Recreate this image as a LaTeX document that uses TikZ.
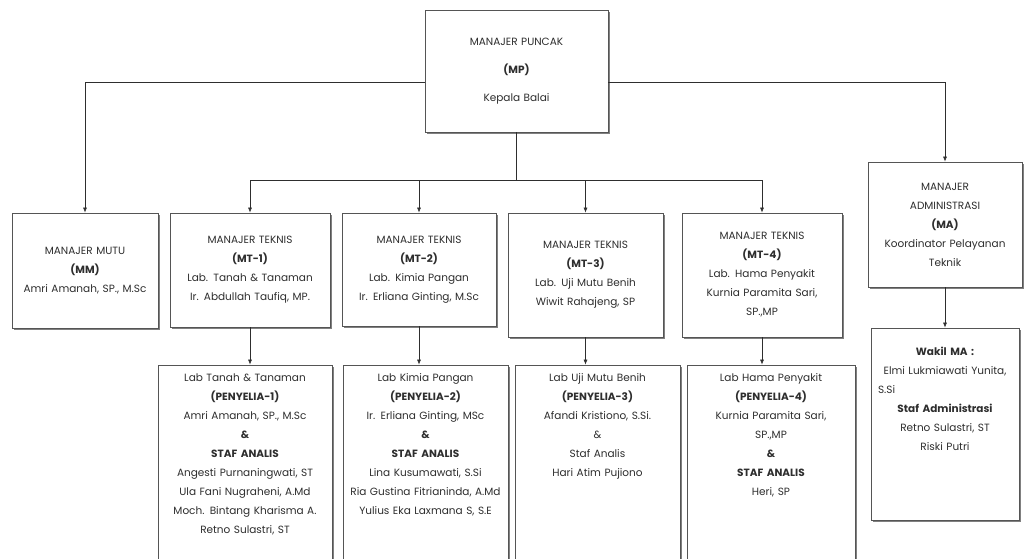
\documentclass[tikz,border=0pt]{standalone}
\usepackage{fontspec}
\setmainfont{Poppins}
\usetikzlibrary{arrows.meta,positioning,shadows}
\definecolor{ink}{HTML}{2E2E2E}
\definecolor{edge}{HTML}{555555}

\begin{document}
\begin{tikzpicture}[x=1pt,y=-1pt,text=ink,>={Latex[length=5pt,width=4pt]},
  font=\fontsize{10.5}{19}\selectfont,
  box/.style={draw=edge,thick,fill=white,align=center,inner sep=0pt,
    drop shadow={shadow xshift=2pt,shadow yshift=-2pt,fill=black!50,opacity=1}},
  boxtext/.style={align=center,inner sep=0pt},
  conn/.style={draw=ink,semithick,->},
  wire/.style={draw=ink,semithick}]
  \useasboundingbox (0,0) rectangle (1024,558);
  \fill[white] (0,0) rectangle (1024,558);

  % top level
  \node[box,minimum width=183,minimum height=122,text width=175,
    font=\fontsize{10.5}{28}\selectfont] (mp) at (516.5,71)
    {MANAJER PUNCAK\\\textbf{(MP)}\\Kepala Balai};

  % managers
  \node[box,minimum width=146,minimum height=115,text width=142] (mm) at (85,270.5)
    {MANAJER MUTU\\\textbf{(MM)}\\Amri Amanah, SP., M.Sc};
  \node[box,minimum width=160,minimum height=114,text width=154] (mt1) at (250,270)
    {MANAJER TEKNIS\\\textbf{(MT-1)}\\Lab. Tanah \& Tanaman\\Ir. Abdullah Taufiq, MP.};
  \node[box,minimum width=154,minimum height=113,text width=150] (mt2) at (419,269.5)
    {MANAJER TEKNIS\\\textbf{(MT-2)}\\Lab. Kimia Pangan\\Ir. Erliana Ginting, M.Sc};
  \node[box,minimum width=155,minimum height=124,text width=150] (mt3) at (585.5,275)
    {MANAJER TEKNIS\\\textbf{(MT-3)}\\Lab. Uji Mutu Benih\\Wiwit Rahajeng, SP};
  \node[box,minimum width=160,minimum height=124,text width=154] (mt4) at (762,275)
    {MANAJER TEKNIS\\\textbf{(MT-4)}\\Lab. Hama Penyakit\\Kurnia Paramita Sari,\\SP.,MP};
  \node[box,minimum width=154,minimum height=125,text width=150] (ma) at (945,224.5)
    {MANAJER\\ADMINISTRASI\\\textbf{(MA)}\\Koordinator Pelayanan\\Teknik};

  % supervisors and staff
  \node[box,minimum width=174,minimum height=210] (p1) at (245,470) {};
  \node[box,minimum width=165,minimum height=210] (p2) at (425.5,470) {};
  \node[box,minimum width=165,minimum height=210] (p3) at (597.5,470) {};
  \node[box,minimum width=168,minimum height=210] (p4) at (771,470) {};
  \node[box,minimum width=148,minimum height=192] (wk) at (945,424) {};

  \node[boxtext,text width=170,anchor=north] (p1t) at ([yshift=-9pt]p1.north)
    {Lab Tanah \& Tanaman\\\textbf{(PENYELIA-1)}\\Amri Amanah, SP., M.Sc\\\textbf{\&}\\
     \textbf{STAF ANALIS}\\Angesti Purnaningwati, ST\\Ula Fani Nugraheni, A.Md\\
     Moch. Bintang Kharisma A.\\Retno Sulastri, ST};
  \node[boxtext,text width=162,anchor=north] (p2t) at ([yshift=-9pt]p2.north)
    {Lab Kimia Pangan\\\textbf{(PENYELIA-2)}\\Ir. Erliana Ginting, MSc\\\textbf{\&}\\
     \textbf{STAF ANALIS}\\Lina Kusumawati, S.Si\\Ria Gustina Fitrianinda, A.Md\\
     Yulius Eka Laxmana S, S.E};
  \node[boxtext,text width=162,anchor=north] (p3t) at ([yshift=-9pt]p3.north)
    {Lab Uji Mutu Benih\\\textbf{(PENYELIA-3)}\\Afandi Kristiono, S.Si.\\\&\\
     Staf Analis\\Hari Atim Pujiono};
  \node[boxtext,text width=164,anchor=north] (p4t) at ([yshift=-9pt]p4.north)
    {Lab Hama Penyakit\\\textbf{(PENYELIA-4)}\\Kurnia Paramita Sari,\\SP.,MP\\\textbf{\&}\\
     \textbf{STAF ANALIS}\\Heri, SP};
  \node[boxtext,text width=140,anchor=north] (wkt) at ([yshift=-19pt]wk.north)
    {\textbf{Wakil MA :}\\Elmi Lukmiawati Yunita,\\\makebox[140pt][l]{\hspace{3pt}S.Si}\\
     \textbf{Staf Administrasi}\\Retno Sulastri, ST\\Riski Putri};

  % connectors
  \coordinate (bus) at (0,180);
  \draw[conn] ([yshift=-11pt]mp.west) -| (mm.north);
  \draw[conn] ([yshift=-11pt]mp.east) -| (ma.north);
  \draw[wire] (mp.south) -- (mp.south |- bus);
  \draw[wire] (mt1.north |- bus) -- (mt4.north |- bus);
  \foreach \m in {mt1,mt2,mt3,mt4}
    \draw[conn] (\m.north |- bus) -- (\m.north);
  \draw[conn] (mt1.south) -- (mt1.south |- p1.north);
  \draw[conn] (mt2.south) -- (mt2.south |- p2.north);
  \draw[conn] (mt3.south) -- (mt3.south |- p3.north);
  \draw[conn] (mt4.south) -- (mt4.south |- p4.north);
  \draw[conn] (ma.south) -- (ma.south |- wk.north);
\end{tikzpicture}
\end{document}
